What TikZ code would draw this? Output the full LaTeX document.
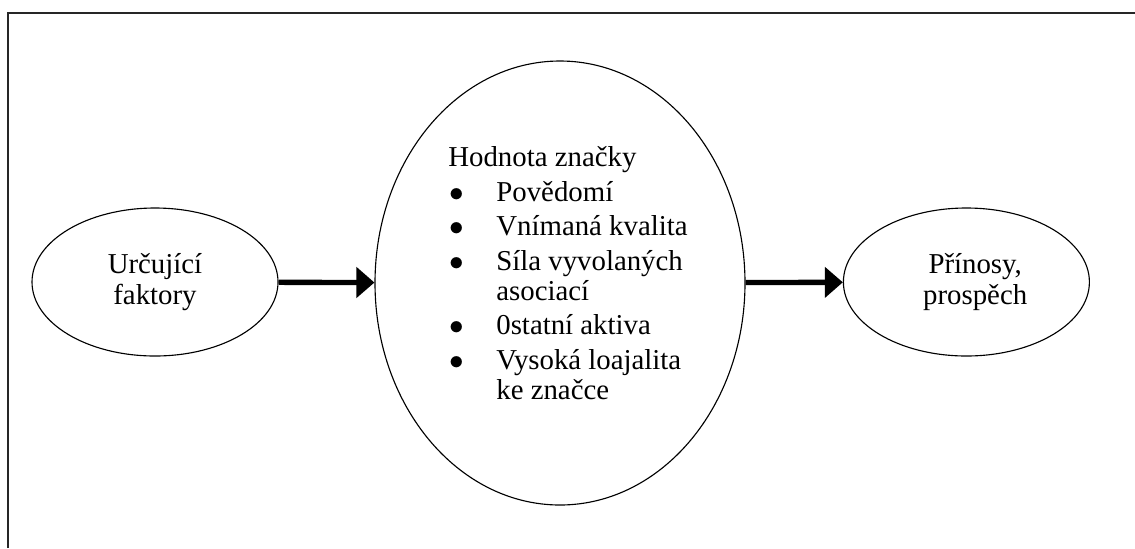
\documentclass[tikz,border=0pt]{standalone}
\usepackage{fontspec}
\setmainfont{Liberation Serif}
\usetikzlibrary{arrows.meta,shapes.geometric}

\tikzset{
	bubble/.style={draw,ellipse,line width=0.8pt,inner sep=0pt,minimum width=6.15cm,minimum height=3.7cm,align=center},
	flow/.style={line width=3.8pt,-{Triangle[length=0.45cm,width=0.75cm]}},
	frameline/.style={line width=1pt,draw=black!85}
}

\begin{document}
\begin{tikzpicture}[font=\fontsize{20.5}{21.5}\selectfont]

\useasboundingbox (0,0) rectangle (28.375,-13.7);

% FRAME

\draw[frameline] (0.2,-13.7) -- (0.2,-0.325) -- (28.375,-0.325);

% LEFT

\node[bubble] (factors) at (3.875,-7.05) {Určující\\faktory};

% MIDDLE

\node[bubble,minimum width=9.25cm,minimum height=11.1cm] (equity) at (14,-7.075) {};
\node[inner sep=0pt,anchor=center] (equitytxt) at ([xshift=0.2cm,yshift=0.15cm]equity.center) {%
	\begin{tabular}{@{}p{1.2cm}@{}l@{}}
	\multicolumn{2}{@{}l@{}}{Hodnota značky}\\[3pt]
	\hspace{0.02cm}$\bullet$ & Povědomí\\[3pt]
	\hspace{0.02cm}$\bullet$ & Vnímaná kvalita\\[3pt]
	\hspace{0.02cm}$\bullet$ & Síla vyvolaných\\
	 & asociací\\[3pt]
	\hspace{0.02cm}$\bullet$ & 0statní aktiva\\[3pt]
	\hspace{0.02cm}$\bullet$ & Vysoká loajalita\\
	 & ke značce
	\end{tabular}};

% RIGHT

\node[bubble] (benefits) at (24.16,-7.05) {};
\node[inner sep=0pt,align=center] (benefitstxt) at ([xshift=0.22cm]benefits.center) {Přínosy,\\prospěch};

% ARROWS

\draw[flow] (factors) -- (equity);
\draw[flow] (equity) -- (benefits);

\end{tikzpicture}
\end{document}
